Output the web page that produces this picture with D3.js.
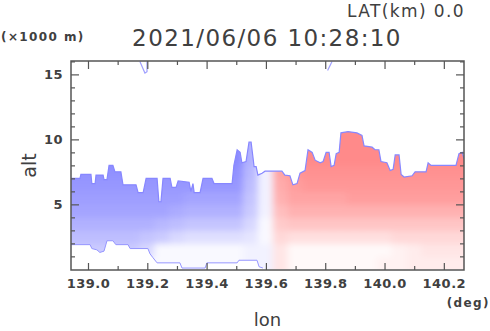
<!DOCTYPE html>
<meta charset="utf-8">
<style>
body { margin: 0; background: #fff; }
svg text { font-family: "DejaVu Sans", sans-serif; fill: #404040; }
.tick text { font-size: 13px; font-weight: bold; letter-spacing: 0.5px; fill: #404040; }
.tick line { stroke: #555; stroke-width: 1.2px; }
.domain { display: none; }
</style>
<svg width="490" height="331"></svg>
<script src="https://d3js.org/d3.v7.min.js"></script>
<script>
// cell centres of the shaded field
var lonCells = [138.95, 139.00, 139.05, 139.10, 139.15, 139.20, 139.25, 139.30, 139.35,
  139.40, 139.45, 139.50, 139.55, 139.60, 139.65, 139.70, 139.75, 139.80, 139.85,
  139.90, 139.95, 140.00, 140.05, 140.10, 140.15, 140.20, 140.25];
var altCells = [0.5, 1.5, 2.5, 3.5, 4.5, 5.5, 6.5, 7.5, 8.5, 9.5, 10.5];

// velocity-like field, one row per altitude (negative = blue, positive = red)
var field = [
  [-2, -2, -2, -2, -2, -1, -0.5, -0.5, -0.5, -0.5, -0.5, -0.5, -1, -1, 2, 0.5, 0.5, 0.5, 0.5, 0.5, 0.5, 1, 1, 1.5, 1.5, 1.5, 1.5],
  [-4, -4, -4, -4, -4, -3, -0.5, -0.5, -0.5, -0.5, -0.5, -0.5, -1, -1, 2, 0.5, 0.5, 0.5, 0.5, 0.5, 0.5, 0.5, 1, 1.5, 2, 2, 2],
  [-5, -5, -5, -5, -5, -4.5, -4, -3, -2.5, -2.5, -2.5, -2.5, -2, -0.5, 3, 2.5, 2.5, 2.5, 2.5, 2.5, 2.5, 2.5, 3, 3, 3, 3, 3],
  [-6, -6, -6, -6, -6, -6, -5.5, -5, -4.5, -4.5, -4.5, -4.5, -3, -0.5, 4, 4.5, 4.5, 4.5, 4.5, 4.5, 4.5, 4.5, 4.5, 4.5, 4.5, 4.5, 4.5],
  [-7, -7, -7, -7, -7, -7, -7, -6.5, -6, -6, -6, -6, -4, -1, 5, 6, 6, 6, 6, 6, 6, 6, 6, 6, 6, 6, 6],
  [-7.5, -7.5, -7.5, -7.5, -7.5, -7.5, -7.5, -7.5, -7, -7, -7, -7, -4.5, -1, 6, 7, 7, 7, 7, 7.5, 7.5, 7.5, 7.5, 7.5, 7.5, 7.5, 7.5],
  [-8, -8, -8, -8, -8, -8, -8, -8, -8, -8, -8, -8, -5, -1, 6.5, 7.5, 8, 8, 8, 8, 8, 8, 8, 8, 8, 8, 8],
  [-8.5, -8.5, -8.5, -8.5, -8.5, -8.5, -8.5, -8.5, -8.5, -8.5, -8.5, -8.5, -5.5, -1, 7, 8, 8.5, 8.5, 8.5, 8.5, 8.5, 8.5, 8.5, 8.5, 8.5, 8.5, 8.5],
  [-9, -9, -9, -9, -9, -9, -9, -9, -9, -9, -9, -9, -6, -1, 7, 8.5, 9, 9, 9, 9, 9, 9, 9, 9, 9, 9, 9],
  [-9, -9, -9, -9, -9, -9, -9, -9, -9, -9, -9, -9, -6, -1, 7, 8.5, 9, 9, 9, 9, 9, 9, 9, 9, 9, 9, 9],
  [-9, -9, -9, -9, -9, -9, -9, -9, -9, -9, -9, -9, -6, -1, 7, 8.5, 9, 9, 9, 9, 9, 9, 9, 9, 9, 9, 9]
];

// echo top
var topLon = [138.943, 138.973, 138.976, 139.010, 139.013, 139.024, 139.027, 139.051, 139.054, 139.064,
  139.071, 139.084, 139.091, 139.111, 139.118, 139.162, 139.169, 139.186, 139.196, 139.233,
  139.239, 139.246, 139.253, 139.277, 139.283, 139.297, 139.304, 139.341, 139.347, 139.354,
  139.358, 139.378, 139.388, 139.418, 139.425, 139.486, 139.492, 139.503, 139.513, 139.519,
  139.533, 139.543, 139.550, 139.557, 139.560, 139.567, 139.573, 139.587, 139.597, 139.654,
  139.664, 139.681, 139.691, 139.705, 139.715, 139.732, 139.742, 139.756, 139.766, 139.783,
  139.793, 139.803, 139.813, 139.820, 139.830, 139.837, 139.847, 139.853, 139.877, 139.907,
  139.924, 139.931, 139.958, 139.968, 139.981, 139.988, 140.008, 140.019, 140.029, 140.036,
  140.049, 140.056, 140.066, 140.093, 140.103, 140.140, 140.147, 140.157, 140.241, 140.251,
  140.262, 140.268];
var topAlt = [7.0, 7.0, 7.3, 7.3, 6.6, 6.6, 7.25, 7.25, 6.9, 6.9,
  8.0, 8.0, 7.5, 7.5, 6.5, 6.5, 5.9, 5.9, 7.0, 7.0,
  5.2, 5.2, 7.0, 7.0, 6.3, 6.3, 6.8, 6.7, 6.0, 6.6,
  5.9, 5.9, 7.0, 7.0, 6.6, 6.6, 8.0, 9.2, 9.0, 8.2,
  8.3, 9.8, 9.8, 8.5, 7.9, 7.9, 7.25, 7.4, 7.55, 7.55,
  7.25, 7.2, 6.5, 6.6, 7.4, 7.6, 9.2, 9.0, 8.4, 8.2,
  8.3, 9.0, 9.0, 7.9, 8.0, 8.9, 9.0, 10.5, 10.6, 10.5,
  10.3, 9.5, 9.4, 9.2, 9.2, 8.3, 8.2, 7.6, 7.7, 8.8,
  8.8, 7.3, 7.1, 7.2, 7.5, 7.5, 8.2, 8.0, 8.0, 8.9,
  9.0, 8.5];

// echo base
var baseLon = [138.943, 139.007, 139.013, 139.030, 139.040, 139.054, 139.064, 139.084, 139.094, 139.135,
  139.142, 139.202, 139.209, 139.219, 139.233, 139.310, 139.317, 139.395, 139.401, 139.503,
  139.509, 139.570, 139.577, 139.590, 139.600, 140.268];
var baseAlt = [1.9, 1.9, 1.6, 1.5, 1.3, 1.4, 2.2, 2.2, 1.9, 1.9,
  1.6, 1.6, 1.2, 0.9, 0.5, 0.5, 0.1, 0.1, 0.5, 0.5,
  0.7, 0.7, 0.2, 0.1, 0.0, 0.0];

// small isolated echoes near the top of the frame
var strayLon = [[139.175, 139.192, 139.199, 139.199], [139.808, 139.823]];
var strayAlt = [[16.0, 15.1, 15.2, 16.0], [15.3, 16.0]];

var lonMajor = [139.0, 139.2, 139.4, 139.6, 139.8, 140.0, 140.2];
var lonMinor = [139.1, 139.3, 139.5, 139.7, 139.9, 140.1];
var altMajor = [5, 10, 15];
var altMinor = [1, 2, 3, 4, 6, 7, 8, 9, 11, 12, 13, 14, 16];

var svg = d3.select("svg"),
    margin = {top: 61, left: 71},
    width = 393,
    height = 209,
    g = svg.append("g").attr("transform", "translate(" + margin.left + "," + margin.top + ")");

var x = d3.scaleLinear().domain([138.9427, 140.268]).range([0, width]);
var y = d3.scaleLinear().domain([-0.05, 16.03]).range([height, 0]);
var color = d3.scaleLinear().domain([-10, 0, 10])
    .range(["rgb(125,125,255)", "#ffffff", "rgb(255,125,125)"]);

var topPts = topLon.map(function(d, i) { return [d, topAlt[i]]; });
var basePts = baseLon.map(function(d, i) { return [d, baseAlt[i]]; });
var line = d3.line().x(function(d) { return x(d[0]); }).y(function(d) { return y(d[1]); });

var defs = svg.append("defs");
defs.append("clipPath").attr("id", "echo")
  .append("path").attr("d", line(topPts.concat(basePts.slice().reverse())) + "Z");
defs.append("clipPath").attr("id", "frame")
  .append("rect").attr("width", width).attr("height", height);
defs.append("filter").attr("id", "soft")
    .attr("filterUnits", "userSpaceOnUse")
    .attr("x", -60).attr("y", -60).attr("width", width + 120).attr("height", height + 120)
  .append("feGaussianBlur").attr("stdDeviation", "3.5 3");

var cells = [];
field.forEach(function(row, r) {
  row.forEach(function(v, c) { cells.push({r: r, c: c, v: v}); });
});

var shade = g.append("g").attr("clip-path", "url(#frame)")
  .append("g").attr("clip-path", "url(#echo)")
  .append("g").attr("filter", "url(#soft)");

shade.selectAll("rect").data(cells).enter().append("rect")
  .attr("x", function(d) { return x(lonCells[d.c] - 0.025) - (d.c === 0 ? 40 : 0.5); })
  .attr("width", function(d) {
    var w = x(lonCells[d.c] + 0.025) - x(lonCells[d.c] - 0.025) + 1;
    return w + (d.c === 0 || d.c === lonCells.length - 1 ? 40 : 0);
  })
  .attr("y", function(d) { return y(altCells[d.r] + 0.5) - (d.r === altCells.length - 1 ? 80 : 0.5); })
  .attr("height", function(d) {
    var h = y(altCells[d.r] - 0.5) - y(altCells[d.r] + 0.5) + 1;
    return h + (d.r === altCells.length - 1 ? 80 : 0) + (d.r === 0 ? 40 : 0);
  })
  .attr("fill", function(d) { return color(d.v); });

var outline = g.append("g").attr("clip-path", "url(#frame)");
outline.append("path").attr("d", line(topPts))
  .attr("fill", "none").attr("stroke", "rgb(135,135,255)").attr("stroke-width", 1.2);
outline.append("path").attr("d", line(basePts.filter(function(d) { return d[0] < 139.6; })))
  .attr("fill", "none").attr("stroke", "rgb(150,150,255)").attr("stroke-width", 1);
strayLon.forEach(function(lons, k) {
  outline.append("path")
    .attr("d", line(lons.map(function(d, i) { return [d, strayAlt[k][i]]; })))
    .attr("fill", "none").attr("stroke", "rgb(160,160,255)").attr("stroke-width", 1.2);
});

// axes, ticks pointing inward
g.append("g").attr("transform", "translate(0," + height + ")")
  .call(d3.axisBottom(x).tickValues(lonMajor).tickSizeInner(-7).tickSizeOuter(0)
    .tickPadding(9).tickFormat(d3.format(".1f")));
g.append("g").attr("transform", "translate(0," + height + ")")
  .call(d3.axisBottom(x).tickValues(lonMinor).tickSizeInner(-4).tickSizeOuter(0).tickFormat(""));
g.append("g")
  .call(d3.axisTop(x).tickValues(lonMajor).tickSizeInner(-8).tickSizeOuter(0).tickFormat(""));
g.append("g")
  .call(d3.axisTop(x).tickValues(lonMinor).tickSizeInner(-4).tickSizeOuter(0).tickFormat(""));
g.append("g")
  .call(d3.axisLeft(y).tickValues(altMajor).tickSizeInner(-8).tickSizeOuter(0)
    .tickPadding(8).tickFormat(d3.format("d")));
g.append("g")
  .call(d3.axisLeft(y).tickValues(altMinor).tickSizeInner(-4).tickSizeOuter(0).tickFormat(""));
g.append("g").attr("transform", "translate(" + width + ",0)")
  .call(d3.axisRight(y).tickValues(altMajor).tickSizeInner(-8).tickSizeOuter(0).tickFormat(""));
g.append("g").attr("transform", "translate(" + width + ",0)")
  .call(d3.axisRight(y).tickValues(altMinor).tickSizeInner(-4).tickSizeOuter(0).tickFormat(""));

g.append("rect").attr("width", width).attr("height", height)
  .attr("fill", "none").attr("stroke", "#555").attr("stroke-width", 1.5);

// labels
svg.append("text").attr("x", 267).attr("y", 46).attr("text-anchor", "middle")
  .style("font-size", "23px").style("letter-spacing", "1.4px")
  .text("2021/06/06 10:28:10");
svg.append("text").attr("x", 465).attr("y", 17).attr("text-anchor", "end")
  .style("font-size", "17px").style("letter-spacing", "1.4px")
  .text("LAT(km) 0.0");
svg.append("text").attr("x", 1).attr("y", 41)
  .style("font-size", "12px").style("font-weight", "bold").style("letter-spacing", "1.4px")
  .text("(×1000 m)");
svg.append("text").attr("x", 490).attr("y", 307).attr("text-anchor", "end")
  .style("font-size", "12px").style("font-weight", "bold").style("letter-spacing", "1.4px")
  .text("(deg)");
svg.append("text").attr("transform", "translate(36,165.5) rotate(-90)").attr("text-anchor", "middle")
  .style("font-size", "19px")
  .text("alt");
svg.append("text").attr("x", 267.5).attr("y", 326).attr("text-anchor", "middle")
  .style("font-size", "18px")
  .text("lon");
</script>
